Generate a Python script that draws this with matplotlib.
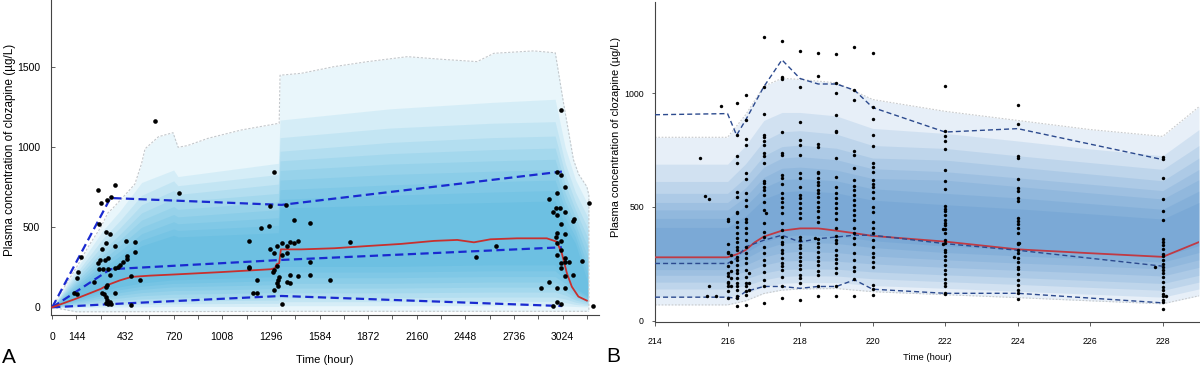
import numpy as np
import matplotlib.pyplot as plt
from matplotlib.ticker import FixedLocator, FixedFormatter

plt.rcParams['font.family'] = ['Liberation Sans', 'DejaVu Sans']

# ---------------- panel A : whole treatment ----------------
a_env_t = [0, 80, 144, 220, 288, 330, 360, 430, 490, 530, 550, 630, 716, 746, 800, 924, 1121,
           1345, 1350, 1476, 1672, 1869, 2105, 2302, 2518, 2617, 2853, 2981, 3030, 3089, 3120, 3168, 3180]
a_env_hi = [0, 140, 250, 390, 500, 590, 620, 700, 770, 900, 990, 1066, 1091, 1000, 1010, 1056, 1108,
            1150, 1450, 1462, 1504, 1535, 1566, 1550, 1535, 1587, 1602, 1590, 1275, 921, 830, 754, 700]
a_env_lo_t = [0, 144, 1500, 3180]
a_env_lo = [0, -28, -25, -25]

a_band_t = [0, 144, 300, 400, 530, 720, 745, 1340, 1350, 2000, 2600, 2980, 3040, 3100, 3175]
a_hi_layers = [
    [0, 240, 480, 600, 780, 858, 817, 900, 1170, 1240, 1280, 1300, 1000, 800, 640],
    [0, 215, 430, 540, 700, 790, 760, 830, 1060, 1120, 1150, 1160, 900, 720, 560],
    [0, 195, 390, 495, 640, 730, 705, 770, 975, 1030, 1060, 1070, 830, 660, 490],
    [0, 178, 355, 455, 590, 680, 660, 712, 915, 960, 985, 995, 770, 610, 430],
    [0, 162, 325, 420, 545, 630, 612, 660, 855, 895, 915, 925, 715, 565, 370],
    [0, 148, 295, 385, 500, 580, 565, 610, 795, 830, 850, 860, 660, 520, 310],
    [0, 135, 270, 350, 460, 535, 522, 560, 735, 765, 785, 795, 610, 480, 250],
    [0, 122, 245, 320, 420, 490, 480, 512, 675, 700, 720, 730, 560, 440, 200],
    [0, 110, 220, 290, 385, 450, 440, 466, 620, 640, 655, 665, 510, 400, 150],
]
a_lo_layers = [
    [0, 0, 1, 2, 3, 5, 5, 5, 10, 10, 10, 10, 8, 5, 2],
    [0, 5, 10, 14, 18, 22, 22, 25, 35, 35, 37, 37, 30, 18, 10],
    [0, 11, 21, 27, 34, 40, 40, 45, 60, 60, 64, 64, 52, 32, 18],
    [0, 17, 33, 42, 52, 60, 60, 67, 90, 90, 95, 95, 76, 46, 26],
    [0, 24, 46, 58, 72, 82, 82, 92, 120, 120, 126, 126, 100, 60, 34],
    [0, 32, 60, 75, 92, 105, 105, 117, 150, 150, 158, 158, 125, 75, 42],
    [0, 40, 74, 92, 112, 128, 128, 142, 185, 185, 192, 192, 150, 90, 50],
    [0, 48, 89, 110, 132, 150, 150, 167, 220, 220, 228, 228, 175, 105, 58],
    [0, 56, 104, 128, 152, 172, 172, 192, 255, 255, 265, 265, 200, 120, 66],
]

a_pred_t = [0, 144, 288, 330, 400, 470, 580, 720, 1000, 1296, 1320, 1330, 1345, 1355, 1476, 1672, 1869,
            2066, 2263, 2400, 2499, 2597, 2754, 2931, 2990, 3020, 3050, 3079, 3118, 3168]
a_pred = [0, 55, 115, 140, 168, 190, 198, 205, 220, 238, 245, 270, 275, 362, 362, 369, 383,
          396, 415, 421, 406, 425, 431, 431, 410, 337, 212, 129, 67, 42]

a_q_t = [0, 345, 1359, 3020]
a_q95 = [0, 683, 640, 848]
a_q50 = [0, 238, 296, 375]
a_q05 = [0, 20, 71, 8]

a_obs_t = [271, 370, 291, 324, 346, 275, 172, 152, 148, 127, 148, 320, 344, 297, 320, 370, 439, 488,
           488, 445, 443, 417, 401, 391, 370, 330, 310, 281, 271, 277, 301, 330, 340, 324, 320, 297,
           305, 320, 326, 340, 330, 346, 370, 469, 518, 469, 247, 316,
           607, 752,
           1313, 1290, 1383, 1434, 1529, 1286, 1240, 1167, 1292, 1313, 1335, 1359, 1389, 1408, 1432,
           1454, 1389, 1361, 1165, 1167, 1214, 1190, 1214, 1309, 1315, 1335, 1339, 1335, 1339, 1315,
           1408, 1389, 1408, 1454, 1529, 1529, 1359, 1343,
           1649, 1765, 2512, 2630,
           2896, 2941, 2941, 2967, 2986, 3010, 3036, 2990, 2990, 3012, 3036, 2990, 2986, 3012, 2990,
           3014, 2990, 3036, 3014, 3036, 3063, 3014, 3036, 3085, 3138, 3089, 3085, 2990, 3036, 2990,
           3014, 2965, 3036, 3012, 2990, 3014, 3183, 3203]
a_obs_v = [733, 764, 650, 671, 692, 521, 316, 223, 185, 92, 81, 473, 458, 362, 400, 383, 417, 406,
           348, 321, 300, 281, 265, 250, 248, 306, 296, 296, 275, 240, 238, 240, 202, 140, 129, 92,
           81, 67, 46, 36, 21, 21, 92, 198, 171, 15, 160, 25,
           1164, 717,
           848, 635, 640, 546, 529, 510, 494, 417, 362, 337, 383, 400, 383, 410, 404,
           417, 337, 327, 244, 254, 171, 87, 87, 223, 233, 258, 171, 154, 133, 108,
           202, 160, 150, 196, 202, 285, 21, 187,
           171, 410, 312, 385,
           123, 156, 677, 598, 619, 619, 598, 577, 712, 521, 458, 462, 442, 417, 400,
           358, 327, 306, 275, 285, 285, 248, 196, 202, 290, 550, 540, 123, 123, 35,
           19, 8, 754, 1233, 844, 827, 654, 8]

a_xticks = list(range(0, 3169, 144))
a_xlabels = [0, 144, 432, 720, 1008, 1296, 1584, 1872, 2160, 2448, 2736, 3024]
a_yticks = [0, 500, 1000, 1500]

# ---------------- panel B : one dosing interval ----------------
b_band_t = [214, 216, 216.5, 217, 217.5, 218, 219, 220, 222, 224, 226, 228, 229]
b_hi_layers = [
    [806, 806, 905, 1030, 1065, 1060, 1045, 972, 920, 880, 840, 810, 940],
    [688, 688, 770, 880, 915, 915, 900, 845, 823, 790, 755, 725, 840],
    [612, 612, 690, 790, 830, 835, 820, 770, 757, 725, 695, 665, 770],
    [560, 560, 630, 725, 765, 772, 758, 715, 706, 675, 645, 615, 715],
    [520, 520, 585, 675, 715, 721, 708, 668, 655, 628, 600, 572, 665],
    [487, 487, 545, 630, 670, 675, 662, 625, 618, 590, 562, 535, 620],
    [450, 450, 505, 585, 620, 625, 615, 580, 560, 540, 515, 490, 570],
    [410, 410, 460, 535, 565, 572, 562, 530, 510, 492, 470, 447, 520],
]
b_lo_layers = [
    [70, 70, 88, 120, 135, 140, 142, 128, 115, 102, 88, 75, 110],
    [105, 105, 120, 150, 165, 168, 168, 155, 143, 130, 117, 104, 140],
    [140, 140, 155, 180, 195, 198, 197, 185, 172, 160, 147, 134, 170],
    [170, 170, 185, 210, 225, 228, 227, 215, 202, 190, 177, 164, 200],
    [200, 200, 215, 245, 262, 265, 262, 250, 235, 222, 210, 197, 235],
    [225, 225, 245, 280, 300, 305, 300, 285, 268, 254, 242, 228, 268],
    [250, 250, 275, 315, 340, 345, 340, 322, 300, 285, 272, 258, 300],
    [270, 270, 300, 345, 370, 378, 372, 352, 328, 312, 298, 283, 330],
]

b_pred_t = [214, 216, 216.25, 216.5, 216.75, 217, 217.5, 218, 218.5, 219, 219.5, 220, 222, 224, 226, 228, 229]
b_pred = [279, 279, 292, 311, 345, 370, 396, 406, 406, 396, 385, 373, 348, 314, 297, 281, 346]

b_q_t = [214, 216, 216.25, 216.5, 217, 217.5, 218, 218.5, 219, 219.5, 220, 222, 224, 228]
b_q95 = [905, 910, 815, 882, 1028, 1146, 1064, 1040, 1040, 1013, 937, 829, 844, 708]
b_q50 = [252, 252, 275, 325, 354, 376, 346, 361, 368, 376, 376, 339, 310, 240]
b_q05 = [104, 104, 99, 129, 151, 151, 143, 151, 151, 180, 139, 121, 121, 79]

b_cols = [216.0, 216.1, 216.26, 216.5, 216.6, 217.0, 217.07, 217.5, 218.0, 218.5, 219.0, 219.5, 220.0,
          222.0, 224.0, 228.0]
b_col_vals = [
    [447, 439, 338, 304, 297, 241, 209, 197, 172, 165, 155, 133, 102],
    [290, 257, 219, 187, 151],
    [955, 816, 724, 692, 567, 545, 480, 475, 436, 414, 384, 363, 348, 326, 311, 282, 268, 246, 224,
     209, 187, 165, 151, 136, 110, 99, 67],
    [991, 882, 797, 772, 648, 621, 563, 531, 504, 446, 436, 406, 384, 355, 326, 297, 275, 253, 224,
     194, 165, 151, 129, 114, 70],
    [209, 165, 136],
    [1247, 1028, 908, 816, 809, 791, 772, 735, 724, 692, 615, 604, 589, 575, 553, 523, 487, 428, 392,
     370, 326, 297, 268, 246, 216, 180, 154, 80],
    [472],
    [1230, 1072, 1064, 830, 738, 728, 640, 626, 601, 560, 541, 523, 501, 472, 431, 399, 370, 348, 338,
     311, 297, 275, 256, 241, 224, 194, 151, 99],
    [1184, 1028, 874, 794, 772, 728, 648, 626, 589, 553, 538, 519, 494, 472, 450, 370, 355, 333, 319,
     297, 279, 265, 246, 227, 202, 187, 165, 92],
    [1174, 1075, 776, 765, 655, 648, 629, 611, 597, 575, 560, 542, 523, 501, 482, 458, 436, 358, 341,
     326, 304, 282, 265, 246, 221, 202, 151, 107],
    [1170, 1045, 1001, 904, 833, 830, 716, 633, 589, 560, 538, 516, 494, 472, 446, 406, 373, 355, 341,
     311, 289, 270, 253, 231, 209, 151, 107],
    [1203, 1013, 969, 747, 728, 670, 618, 592, 575, 553, 531, 509, 487, 465, 443, 406, 384, 363, 338,
     297, 268, 238, 221, 183, 107],
    [1178, 937, 886, 816, 768, 692, 677, 655, 618, 601, 589, 567, 538, 501, 480, 436, 406, 387, 355,
     326, 297, 279, 257, 238, 158, 139, 114],
    [1032, 835, 813, 791, 753, 662, 615, 579, 504, 493, 482, 465, 443, 431, 421, 403, 384, 355, 343,
     311, 304, 285, 268, 246, 224, 205, 184, 165, 154, 121, 118],
    [947, 863, 724, 713, 623, 585, 572, 538, 528, 450, 439, 425, 406, 384, 343, 338, 311, 297, 275,
     260, 235, 227, 205, 180, 158, 136, 121, 95],
    [719, 712, 627, 534, 481, 444, 361, 346, 332, 317, 295, 284, 266, 251, 237, 222, 208, 193, 171,
     149, 135, 120, 108, 91, 83, 54],
]
b_extra_t = [215.25, 215.37, 215.5, 215.5, 215.43, 215.69, 215.83, 218.4, 221.93, 221.95, 223.9, 224.05,
             227.8, 228.08]
b_extra_v = [716, 550, 535, 151, 110, 110, 945, 363, 403, 338, 282, 341, 237, 108]

b_xticks = list(range(214, 229, 2))
b_yticks = [0, 500, 1000]

YLABEL = "Plasma concentration of clozapine (\u00b5g/L)"

fig = plt.figure(figsize=(12, 3.68), dpi=100)
W, H = 1200.0, 368.0
axA = fig.add_axes([51 / W, 1 - 315 / H, (599 - 51) / W, 315 / H])
axB = fig.add_axes([655 / W, 1 - 322 / H, (1199 - 655) / W, 320 / H])

# ---- draw A ----
a_blue = (0.08, 0.61, 0.83)
env_lo_on_t = np.interp(a_env_t, a_env_lo_t, a_env_lo)
axA.fill_between(a_env_t, env_lo_on_t, a_env_hi, color=a_blue, alpha=0.09, lw=0)
for hi, lo in zip(a_hi_layers, a_lo_layers):
    axA.fill_between(a_band_t, lo, hi, color=a_blue, alpha=0.09, lw=0)
axA.plot(a_env_t + [a_env_t[-1]], a_env_hi + [a_env_lo[-1]], color="#c3c8cc", lw=0.8, dashes=(2, 1.5))
axA.plot(a_env_lo_t, a_env_lo, color="#c3c8cc", lw=0.8, dashes=(2, 1.5))
for q in (a_q95, a_q50, a_q05):
    axA.plot(a_q_t, q, color="#1a2ad0", lw=1.6, dashes=(3.7, 2.0), zorder=4)
axA.plot(a_pred_t, a_pred, color="#c8302e", lw=1.3, zorder=5)
axA.scatter(a_obs_t, a_obs_v, s=11, color="black", lw=0, zorder=6)

axA.set_xlim(-7, 3240)
axA.set_ylim(-48, 1920)
axA.xaxis.set_major_locator(FixedLocator(a_xticks))
axA.xaxis.set_major_formatter(FixedFormatter([str(t) if t in a_xlabels else "" for t in a_xticks]))
axA.set_yticks(a_yticks)
axA.tick_params(axis="x", direction="out", length=3, width=0.6, pad=9, labelsize=7.5, color="#444444")
axA.tick_params(axis="y", direction="in", length=3, width=0.6, pad=8, labelsize=7.5, color="#444444")

# ---- draw B ----
b_blue = (0.18, 0.48, 0.76)
b_all_t = list(b_extra_t)
b_all_v = list(b_extra_v)
for h, vals in zip(b_cols, b_col_vals):
    b_all_t += [h] * len(vals)
    b_all_v += vals
for hi, lo in zip(b_hi_layers, b_lo_layers):
    axB.fill_between(b_band_t, lo, hi, color=b_blue, alpha=0.115, lw=0)
axB.plot(b_band_t, b_hi_layers[0], color="#c8cacc", lw=0.8, dashes=(1.5, 1.5))
axB.plot(b_band_t, b_lo_layers[0], color="#c8cacc", lw=0.8, dashes=(1.5, 1.5))
axB.plot(b_pred_t, b_pred, color="#c03a44", lw=1.3, zorder=4)
for q in (b_q95, b_q50, b_q05):
    axB.plot(b_q_t, q, color="#2c4a8e", lw=1.0, dashes=(3.6, 2.2), zorder=5)
axB.scatter(b_all_t, b_all_v, s=6, color="black", lw=0, zorder=6)

axB.set_xlim(214, 229)
axB.set_ylim(-5, 1400)
axB.set_xticks(b_xticks)
axB.set_yticks(b_yticks)
axB.tick_params(axis="x", direction="out", length=3, width=0.6, pad=8, labelsize=6.3, color="#444444")
axB.tick_params(axis="y", direction="out", length=2, width=0.6, pad=6, labelsize=6.3, color="#444444")

for ax in (axA, axB):
    for side in ("top", "right"):
        ax.spines[side].set_visible(False)
    for side in ("left", "bottom"):
        ax.spines[side].set_color("#444444")
        ax.spines[side].set_linewidth(0.8)

fig.text(10 / W, 1 - 150 / H, YLABEL, rotation=90, ha="center", va="center", fontsize=8.4)
fig.text(616 / W, 1 - 137 / H, YLABEL, rotation=90, ha="center", va="center", fontsize=7.9)
fig.text(325 / W, 1 - 360 / H, "Time (hour)", ha="center", va="center", fontsize=8)
fig.text(927 / W, 1 - 358 / H, "Time (hour)", ha="center", va="center", fontsize=6.8)
fig.text(2 / W, 0.004, "A", ha="left", va="bottom", fontsize=15)
fig.text(606 / W, 0.006, "B", ha="left", va="bottom", fontsize=15)

fig.savefig("out.png", dpi=100)
